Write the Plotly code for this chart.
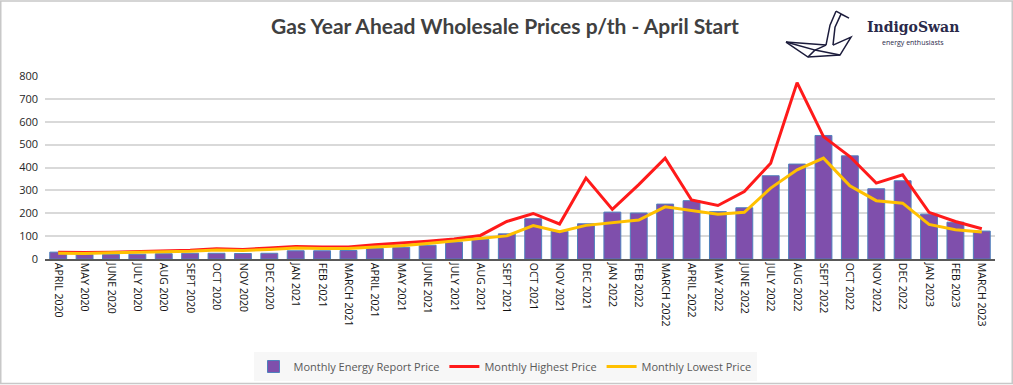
import plotly.graph_objects as go

months = ["APRIL 2020", "MAY 2020", "JUNE 2020", "JULY 2020", "AUG 2020", "SEPT 2020",
          "OCT 2020", "NOV 2020", "DEC 2020", "JAN 2021", "FEB 2021", "MARCH 2021",
          "APRIL 2021", "MAY 2021", "JUNE 2021", "JULY 2021", "AUG 2021", "SEPT 2021",
          "OCT 2021", "NOV 2021", "DEC 2021", "JAN 2022", "FEB 2022", "MARCH 2022",
          "APRIL 2022", "MAY 2022", "JUNE 2022", "JULY 2022", "AUG 2022", "SEPT 2022",
          "OCT 2022", "NOV 2022", "DEC 2022", "JAN 2023", "FEB 2023", "MARCH 2023"]

report_price = [30, 20, 20, 21, 23, 25, 25, 24, 25, 36, 36, 37,
                46, 51, 60, 74, 85, 110, 176, 121, 154, 205, 201, 240,
                255, 207, 224, 364, 415, 540, 451, 307, 342, 196, 161, 122]

highest_price = [30, 28, 30, 33, 37, 38, 45, 42, 48, 55, 52, 52,
                 62, 69, 78, 88, 103, 164, 199, 153, 354, 217, 325, 441,
                 258, 234, 295, 419, 771, 535, 448, 332, 368, 204, 164, 132]

lowest_price = [25, 24, 27, 29, 33, 34, 39, 37, 42, 48, 46, 46,
                52, 58, 68, 78, 90, 101, 146, 119, 147, 159, 170, 228,
                212, 196, 204, 310, 390, 441, 320, 255, 244, 151, 128, 118]

y_ticks = [0, 100, 200, 300, 400, 500, 600, 700, 800]

W, H = 1013, 385
L, R, T, B = 45, 995, 76, 259.5


def px(x):
    return (x - L) / (R - L)


def py(y):
    return (B - y) / (B - T)


fig = go.Figure()
fig.add_trace(go.Bar(
    x=months, y=report_price, name="Monthly Energy Report Price",
    marker=dict(color="#7f4fac", line=dict(color="#4f81bd", width=1)),
))
fig.add_trace(go.Scatter(
    x=months, y=highest_price, name="Monthly Highest Price", mode="lines",
    line=dict(color="#ff1a1a", width=3),
))
fig.add_trace(go.Scatter(
    x=months, y=lowest_price, name="Monthly Lowest Price", mode="lines",
    line=dict(color="#ffc000", width=3),
))

shapes = []
# outer frame
shapes.append(dict(type="rect", xref="paper", yref="paper",
                   x0=px(0.75), x1=px(W - 0.75), y0=py(H - 0.75), y1=py(0.75),
                   line=dict(color="#c8c8c8", width=1.5), fillcolor="rgba(0,0,0,0)",
                   layer="below"))

# origami swan logo (decorative line drawing)
swan_segments = [
    [(836, 11), (849, 18), (841, 14)],
    [(836, 11), (830, 25), (826, 45)],
    [(841, 14), (835, 27), (833, 45)],
    [(786, 42), (808, 57), (840, 55), (851, 37), (833, 45)],
    [(786, 42), (826, 45)],
    [(786, 42), (815, 50), (808, 57)],
    [(815, 50), (840, 55)],
    [(815, 50), (826, 45)],
]
for seg in swan_segments:
    path = "M " + " L ".join(f"{px(a):.5f},{py(b):.5f}" for a, b in seg)
    shapes.append(dict(type="path", xref="paper", yref="paper", path=path,
                       line=dict(color="#1c1c3c", width=1.5)))

annotations = [
    dict(text="<b>IndigoSwan</b>", x=px(865), y=py(27), xref="paper", yref="paper",
         xanchor="left", yanchor="middle", showarrow=False,
         font=dict(family="DejaVu Serif", size=14, color="#2a2a4a")),
    dict(text="energy enthusiasts", x=px(913), y=py(42), xref="paper", yref="paper",
         xanchor="center", yanchor="middle", showarrow=False,
         font=dict(family="Open Sans", size=7, color="#2a2a4a")),
]

fig.update_layout(
    width=W, height=H,
    margin=dict(l=L, r=W - R, t=T, b=H - B, pad=0, autoexpand=False),
    paper_bgcolor="white", plot_bgcolor="white",
    title=dict(text="<b>Gas Year Ahead Wholesale Prices p/th - April Start</b>",
               x=px(505), xref="paper", xanchor="center",
               y=1 - 27 / H, yref="container", yanchor="middle",
               font=dict(family="Lato", size=21, color="#404040")),
    bargap=0.36,
    showlegend=True,
    legend=dict(orientation="h", x=505 / W, xref="container", xanchor="center",
                y=1 - 352 / H, yref="container", yanchor="top",
                bgcolor="#f7f7f7", font=dict(family="Open Sans", size=11, color="#595959"),
                itemwidth=30, traceorder="normal"),
    xaxis=dict(type="category", tickangle=90, showgrid=False,
               showline=True, linecolor="#595959", linewidth=1.5, automargin=False,
               ticks="", tickfont=dict(family="Open Sans", size=10.5, color="#111111"),
               range=[-0.5, len(months) - 0.5]),
    yaxis=dict(range=[0, 800], tickvals=y_ticks, showgrid=True, gridcolor="#d9d9d9",
               gridwidth=1.5, zeroline=False, showline=False, ticks="", automargin=False,
               tickfont=dict(family="Open Sans", size=11, color="#262626"),
               ticklabelstandoff=6),
    shapes=shapes,
    annotations=annotations,
)

fig.write_html("out.html", config={"displayModeBar": False},
               post_script="document.body.style.margin='0';document.body.style.overflow='hidden';")
